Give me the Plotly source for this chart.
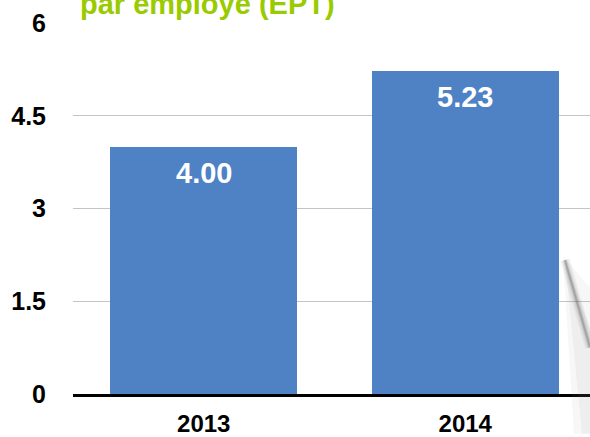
import plotly.graph_objects as go

# ---- data ----
categories = ["2013", "2014"]
values = [4.00, 5.23]
y_tickvals = [0, 1.5, 3, 4.5, 6]
y_ticktext = ["0", "1.5", "3", "4.5", "6"]
title_text = "par employé (EPT)"

W, H = 590, 437
ML, MR, MT, MB = 73, 0, 23, 40
PW, PH = W - ML - MR, H - MT - MB

def px(x):
    return (x - ML) / PW

def py(y):
    return (H - MB - y) / PH

BAR = "#4F82C4"
FONT = "Liberation Sans, Arial, Helvetica, sans-serif"

fig = go.Figure()
fig.add_trace(go.Bar(
    x=categories, y=values, width=0.715,
    marker=dict(color=BAR, line=dict(width=0)),
    hoverinfo="skip",
))

for i, v in enumerate(values):
    fig.add_annotation(
        x=i, y=v, xref="x", yref="y", text=f"{v:.2f}",
        showarrow=False, yanchor="middle", yshift=-26,
        font=dict(family=FONT, size=29, color="white", weight="bold"),
    )

# clipped title at top
fig.add_annotation(
    x=px(78), y=py(4), xref="paper", yref="paper", xanchor="left", yanchor="middle",
    text=title_text, showarrow=False,
    font=dict(family=FONT, size=29, color="#9ACA00", weight="bold"),
)

# soft page-curl shadow decoration on the right edge
shapes = [
    dict(type="path", xref="paper", yref="paper",
         path=f"M {px(563)} {py(258)} L {px(590)} {py(290)} L {px(590)} {py(437)} L {px(574)} {py(437)} Z",
         fillcolor="rgba(140,140,140,0.07)", line=dict(width=0), layer="above"),
    dict(type="path", xref="paper", yref="paper",
         path=f"M {px(565)} {py(262)} L {px(590)} {py(330)} L {px(590)} {py(437)} L {px(582)} {py(437)} Z",
         fillcolor="rgba(140,140,140,0.08)", line=dict(width=0), layer="above"),
]
for wdt, alpha in [(10, 0.05), (7, 0.07), (4, 0.12), (2, 0.22)]:
    shapes.append(dict(type="line", xref="paper", yref="paper",
                       x0=px(565), y0=py(262), x1=px(590), y1=py(350),
                       line=dict(color=f"rgba(60,60,60,{alpha})", width=wdt), layer="above"))

fig.update_layout(
    width=W, height=H,
    margin=dict(l=ML, r=MR, t=MT, b=MB),
    paper_bgcolor="white", plot_bgcolor="white",
    showlegend=False,
    bargap=0.0,
    shapes=shapes,
    xaxis=dict(
        type="category", range=[-0.5, 1.477],
        showgrid=False, showline=True, linecolor="black", linewidth=2.5,
        ticks="", ticklabelstandoff=6,
        tickfont=dict(family=FONT, size=24, color="black", weight="bold"),
    ),
    yaxis=dict(
        range=[0, 6], tickvals=y_tickvals, ticktext=y_ticktext,
        showgrid=True, gridcolor="#C4C4C4", gridwidth=1,
        zeroline=False, showline=False, ticks="",
        ticklabelstandoff=26,
        tickfont=dict(family=FONT, size=25, color="black", weight="bold"),
    ),
)

fig.write_html(
    "out.html",
    config={"displayModeBar": False},
    post_script="document.body.style.margin='0';document.body.style.overflow='hidden';",
)
